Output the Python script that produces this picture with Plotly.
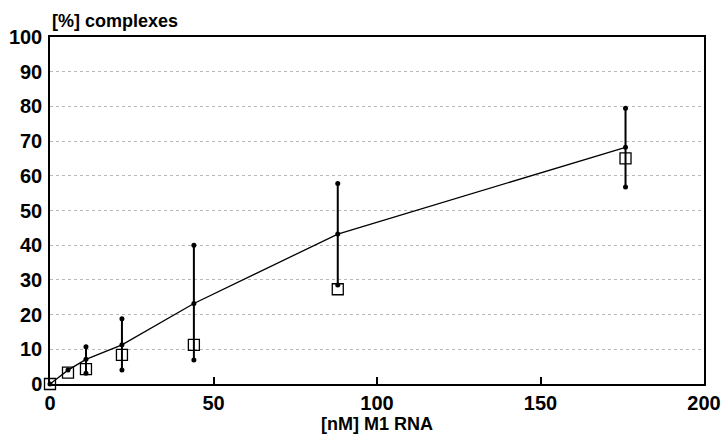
import plotly.graph_objects as go

conc = [0, 5.5, 11, 22, 44, 88, 176]
mean_vals = [0, 4.0, 7.1, 11.3, 23.2, 43.2, 68.2]
err_x = [11, 22, 44, 88, 176]
err_low = [3.1, 4.0, 6.9, 28.5, 56.8]
err_high = [10.7, 18.8, 40.0, 57.8, 79.5]
square_vals = [0, 3.3, 4.3, 8.4, 11.3, 27.3, 65.0]

x_ticks = [0, 50, 100, 150, 200]
y_ticks = [0, 10, 20, 30, 40, 50, 60, 70, 80, 90, 100]

FONT = "Liberation Sans, Arial, sans-serif"

# error bars as segments with dot ends
ex, ey = [], []
for x, lo, hi in zip(err_x, err_low, err_high):
    ex += [x, x, None]
    ey += [lo, hi, None]

fig = go.Figure()
fig.add_trace(go.Scatter(x=ex, y=ey, mode="lines+markers",
                         line=dict(color="black", width=2),
                         marker=dict(color="black", size=5, symbol="circle"),
                         showlegend=False, hoverinfo="skip", cliponaxis=False))
fig.add_trace(go.Scatter(x=conc, y=mean_vals, mode="lines+markers",
                         line=dict(color="black", width=1.3),
                         marker=dict(color="black", size=5),
                         showlegend=False, cliponaxis=False))
fig.add_trace(go.Scatter(x=conc, y=square_vals, mode="markers",
                         marker=dict(symbol="square-open", size=11,
                                     color="black", line=dict(width=1.3)),
                         showlegend=False, cliponaxis=False))

fig.update_layout(
    width=723, height=437,
    margin=dict(l=50, r=19, t=37, b=53),
    paper_bgcolor="white", plot_bgcolor="white",
    font=dict(family=FONT, color="black"),
    xaxis=dict(range=[0, 200], tickvals=x_ticks, ticks="inside", ticklen=7,
               tickcolor="black", tickwidth=1.5, automargin=False,
               showgrid=False, zeroline=False, showline=True, linecolor="black",
               linewidth=1.5, mirror=True,
               tickfont=dict(size=20, family=FONT, weight="bold"),
               title=dict(text="[nM] M1 RNA", standoff=2,
                          font=dict(size=18, family=FONT, weight="bold"))),
    yaxis=dict(range=[0, 100], tickvals=y_ticks, ticks="", showgrid=True,
               gridcolor="#b8b8b8", griddash="dot", gridwidth=1,
               automargin=False, ticklabelstandoff=2,
               zeroline=False, showline=True, linecolor="black", linewidth=1.5,
               mirror=True,
               tickfont=dict(size=20, family=FONT, weight="bold")),
    annotations=[dict(text="[%] complexes", xref="paper", yref="paper",
                      x=0, y=1, xanchor="left", yanchor="bottom", yshift=4,
                      showarrow=False,
                      font=dict(size=18, family=FONT, weight="bold"))],
)

fig.write_html(
    "out.html",
    config={"displayModeBar": False},
    post_script="document.body.style.margin='0';document.body.style.overflow='hidden';",
)
